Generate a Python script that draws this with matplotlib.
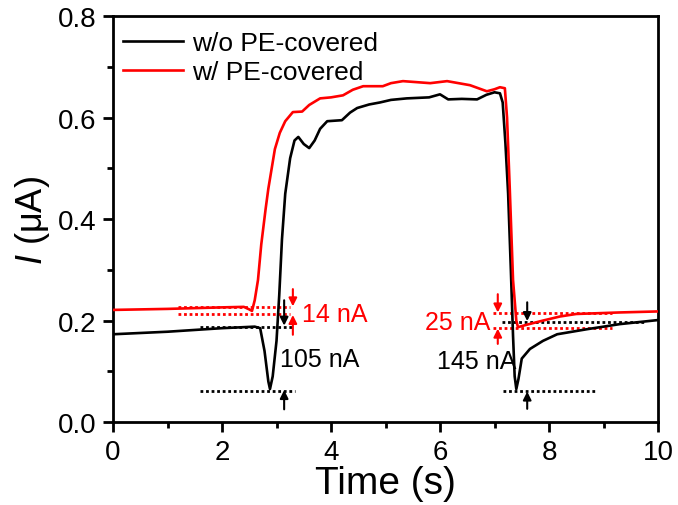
import matplotlib
matplotlib.use("Agg")
import matplotlib.pyplot as plt
from matplotlib.ticker import MultipleLocator

plt.rcParams['font.family'] = ['Liberation Sans', 'DejaVu Sans']
plt.rcParams['mathtext.fontset'] = 'custom'
plt.rcParams['mathtext.it'] = 'Liberation Sans:italic'
plt.rcParams['mathtext.rm'] = 'Liberation Sans'

# ---- data ----
t_black = [0, 1.0, 2.0, 2.6, 2.7, 2.78, 2.85, 2.88, 2.93, 3.0, 3.05, 3.1, 3.16, 3.25,
           3.33, 3.4, 3.5, 3.6, 3.7, 3.8, 3.93, 4.2, 4.35, 4.48, 4.7, 4.9, 5.1, 5.39,
           5.8, 6.0, 6.15, 6.4, 6.68, 6.85, 7.0, 7.1, 7.15, 7.2, 7.25, 7.3, 7.34, 7.37,
           7.4, 7.44, 7.5, 7.65, 7.89, 8.15, 8.7, 9.3, 10.0]
i_black = [0.173, 0.178, 0.185, 0.188, 0.185, 0.14, 0.08, 0.065, 0.09, 0.16, 0.25, 0.36,
           0.45, 0.52, 0.555, 0.562, 0.548, 0.54, 0.555, 0.578, 0.593, 0.595, 0.61, 0.619,
           0.626, 0.63, 0.635, 0.638, 0.64, 0.646, 0.636, 0.637, 0.636, 0.645, 0.65, 0.648,
           0.63, 0.55, 0.45, 0.3, 0.17, 0.09, 0.065, 0.085, 0.125, 0.144, 0.16, 0.173,
           0.183, 0.193, 0.201]

t_red = [0, 1.0, 2.0, 2.4, 2.5, 2.55, 2.6, 2.66, 2.72, 2.8, 2.85, 2.97, 3.06, 3.16, 3.3,
         3.47, 3.6, 3.8, 4.0, 4.22, 4.4, 4.59, 4.95, 5.1, 5.32, 5.82, 6.13, 6.55, 6.86,
         7.0, 7.1, 7.19, 7.23, 7.28, 7.34, 7.4, 7.43, 7.6, 7.89, 8.2, 8.5, 9.3, 10.0]
i_red = [0.221, 0.223, 0.226, 0.227, 0.222, 0.219, 0.24, 0.28, 0.35, 0.42, 0.46, 0.538,
         0.57, 0.593, 0.611, 0.612, 0.625, 0.638, 0.64, 0.644, 0.655, 0.662, 0.662, 0.668,
         0.672, 0.668, 0.672, 0.664, 0.652, 0.656, 0.66, 0.658, 0.6, 0.46, 0.28, 0.2,
         0.187, 0.192, 0.2, 0.208, 0.213, 0.216, 0.218]

labels = ['w/o PE-covered', 'w/ PE-covered']
x_ticks = [0, 2, 4, 6, 8, 10]
y_ticks = [0.0, 0.2, 0.4, 0.6, 0.8]

# annotation levels (x0, x1, y, color)
dotted = [
    (1.19, 3.25, 0.227, 'red'), (1.19, 3.25, 0.212, 'red'),
    (1.60, 3.28, 0.188, 'black'), (1.60, 3.34, 0.062, 'black'),
    (6.97, 9.16, 0.215, 'red'), (6.97, 9.16, 0.185, 'red'),
    (7.14, 9.76, 0.197, 'black'), (7.16, 8.88, 0.061, 'black'),
]
# arrows (x, y_tail, y_head, color)
arrows = [
    (3.14, 0.240, 0.190, 'black'), (3.14, 0.025, 0.063, 'black'),
    (3.30, 0.262, 0.228, 'red'), (3.30, 0.172, 0.211, 'red'),
    (7.06, 0.252, 0.216, 'red'), (7.06, 0.154, 0.184, 'red'),
    (7.60, 0.236, 0.199, 'black'), (7.60, 0.026, 0.060, 'black'),
]
# texts (x, y, text, color, ha)
texts = [
    (3.47, 0.213, '14 nA', 'red', 'left'),
    (3.06, 0.124, '105 nA', 'black', 'left'),
    (6.92, 0.197, '25 nA', 'red', 'right'),
    (5.94, 0.120, '145 nA', 'black', 'left'),
]

fig = plt.figure(figsize=(6.78, 5.06), dpi=100)
ax = fig.add_axes([0.1667, 0.164, 0.8038, 0.802])

ax.plot(t_black, i_black, color='black', lw=1.9, label=labels[0], solid_joinstyle='round', zorder=3)
ax.plot(t_red, i_red, color='red', lw=1.9, label=labels[1], solid_joinstyle='round', zorder=3)

for x0, x1, y, c in dotted:
    ax.plot([x0, x1], [y, y], color=c, lw=2.0, linestyle=(0, (1, 1)), dash_capstyle='butt', zorder=2)
for x, yt, yh, c in arrows:
    ax.annotate('', xy=(x, yh), xytext=(x, yt),
                arrowprops=dict(arrowstyle='-|>', color=c, lw=1.5, mutation_scale=12,
                                shrinkA=0, shrinkB=0), zorder=4)
for x, y, s, c, ha in texts:
    ax.text(x, y, s, color=c, fontsize=18, ha=ha, va='center', zorder=5)

ax.set_xlim(0, 10)
ax.set_ylim(0, 0.8)
ax.set_xticks(x_ticks)
ax.set_yticks(y_ticks)
ax.set_yticklabels([f'{v:.1f}' for v in y_ticks])
ax.xaxis.set_minor_locator(MultipleLocator(1))
ax.yaxis.set_minor_locator(MultipleLocator(0.1))
ax.tick_params(which='major', direction='out', length=7, width=2, labelsize=20, pad=5)
ax.tick_params(which='minor', direction='out', length=4, width=2)
for s in ax.spines.values():
    s.set_linewidth(2.0)

ax.set_xlabel('Time (s)', fontsize=28, labelpad=0)
ax.set_ylabel(r'$\mathit{I}$ (μA)', fontsize=26, labelpad=4)

leg = ax.legend(loc='upper left', bbox_to_anchor=(0.0175, 0.963), frameon=False,
                fontsize=19, handlelength=2.3, handletextpad=0.35, labelspacing=0.2,
                borderpad=0, borderaxespad=0)

fig.savefig('out.png', dpi=100)
